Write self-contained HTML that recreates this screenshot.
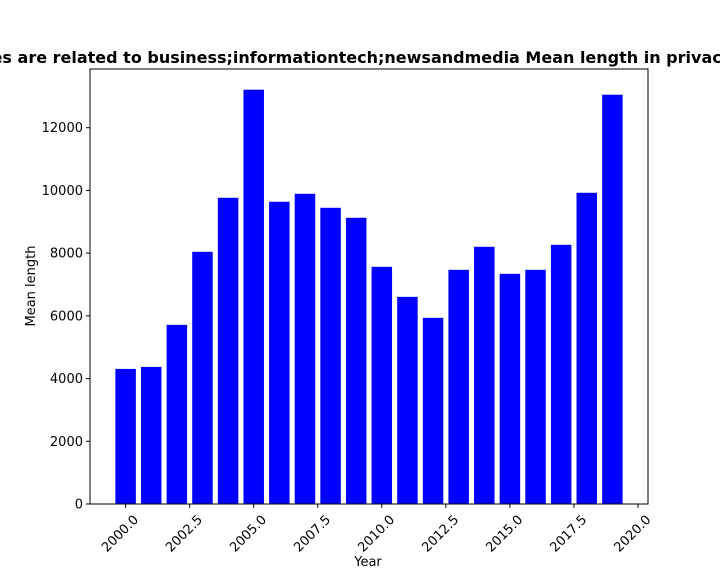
<!DOCTYPE html>
<html><head><meta charset="utf-8"><style>
html,body{margin:0;padding:0;background:#fff;width:720px;height:576px;overflow:hidden}
svg{font-family:"DejaVu Sans","Liberation Sans",sans-serif}
</style></head><body>
<svg id="chart" width="720" height="576">
<text x="368" y="63" text-anchor="middle" font-size="16" font-weight="bold">Websites are related to business;informationtech;newsandmedia Mean length in privacy policies</text>
<g id="bars"></g>
<g id="axes"></g>
<rect x="90" y="69" width="558" height="435" fill="none" stroke="#000" stroke-width="1"/>
<text x="368" y="566" text-anchor="middle" font-size="13">Year</text>
<text transform="translate(35,286) rotate(-90)" text-anchor="middle" font-size="13">Mean length</text>
</svg>
<script>
const years=[2000,2001,2002,2003,2004,2005,2006,2007,2008,2009,2010,2011,2012,2013,2014,2015,2016,2017,2018,2019];
const values=[4308,4372,5712,8042,9765,13212,9638,9893,9446,9127,7563,6606,5936,7468,8202,7340,7468,8265,9925,13052];
const xTicks=[2000,2002.5,2005,2007.5,2010,2012.5,2015,2017.5,2020];
const yTicks=[0,2000,4000,6000,8000,10000,12000];
const NS="http://www.w3.org/2000/svg";
const x0=90,x1=648,y0=504,y1=69;
const xmin=1998.61,xmax=2020.39,ymax=13872;
const sx=v=>x0+(v-xmin)/(xmax-xmin)*(x1-x0);
const sy=v=>y0-v/ymax*(y0-y1);
const bars=document.getElementById('bars'),axes=document.getElementById('axes');
years.forEach((yr,i)=>{
 const r=document.createElementNS(NS,'rect');
 const l=sx(yr-0.4),rr=sx(yr+0.4);
 r.setAttribute('x',l);r.setAttribute('width',rr-l);
 r.setAttribute('y',sy(values[i]));r.setAttribute('height',y0-sy(values[i]));
 r.setAttribute('fill','#0000ff');
 
 
 bars.appendChild(r);
});
xTicks.forEach(t=>{
 const x=sx(t);
 const ln=document.createElementNS(NS,'line');
 ln.setAttribute('x1',x);ln.setAttribute('x2',x);ln.setAttribute('y1',y0);ln.setAttribute('y2',y0+4);ln.setAttribute('stroke','#000');
 
 
 axes.appendChild(ln);
 const tx=document.createElementNS(NS,'text');
 tx.setAttribute('transform','translate('+(x+7)+','+(y0+10)+') rotate(-45)');
 tx.setAttribute('text-anchor','end');tx.setAttribute('font-size','13');tx.setAttribute('dy','0.7em');
 tx.textContent=t.toFixed(1);
 
 
 axes.appendChild(tx);
});
yTicks.forEach(t=>{
 const y=sy(t);
 const ln=document.createElementNS(NS,'line');
 ln.setAttribute('x1',x0-4);ln.setAttribute('x2',x0);ln.setAttribute('y1',y);ln.setAttribute('y2',y);ln.setAttribute('stroke','#000');
 
 
 axes.appendChild(ln);
 const tx=document.createElementNS(NS,'text');
 tx.setAttribute('x',x0-7);tx.setAttribute('y',y+4.5);tx.setAttribute('text-anchor','end');tx.setAttribute('font-size','13');
 tx.textContent=t;
 
 
 axes.appendChild(tx);
});
</script>
</body></html>
